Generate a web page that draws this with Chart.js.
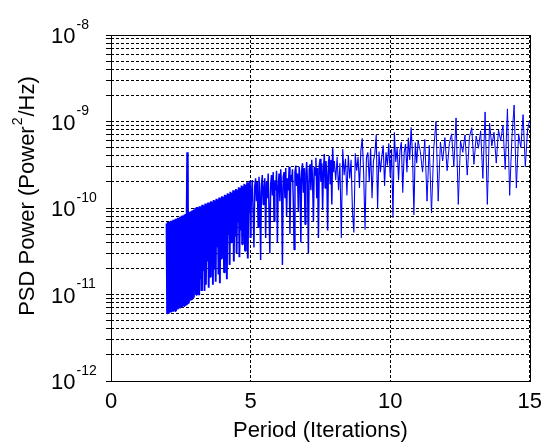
<!DOCTYPE html>
<html><head><meta charset="utf-8">
<script src="https://cdn.jsdelivr.net/npm/chart.js@4/dist/chart.umd.min.js"></script>
<style>html,body{margin:0;padding:0;background:#fff}#wrap{width:550px;height:444px}</style>
</head><body><div id="wrap"><canvas id="c" width="550" height="444"></canvas></div>
<script>
// Period (iterations) and PSD power values
const periodA = [2.00,2.02,2.04,2.06,2.08,2.10,2.12,2.14,2.16,2.18,2.20,2.22,2.24,2.26,2.28,2.30,2.32,2.34,2.36,2.38,2.40,2.42,2.44,2.46,2.48,2.50,2.52,2.54,2.56,2.58,2.60,2.62,2.64,2.66,2.68,2.70,2.72,2.74,2.76,2.78,2.80,2.82,2.84,2.86,2.88,2.90,2.92,2.94,2.96,2.98,3.00];
const powerA = [6.6e-11,6.1e-12,6.9e-11,6.0e-12,6.7e-11,6.4e-12,7.0e-11,6.2e-12,7.1e-11,6.6e-12,6.9e-11,6.3e-12,7.3e-11,6.8e-12,7.2e-11,6.5e-12,7.5e-11,7.1e-12,7.4e-11,6.7e-12,7.7e-11,7.3e-12,7.6e-11,6.9e-12,7.9e-11,7.6e-12,8.0e-11,7.1e-12,8.2e-11,7.8e-12,8.1e-11,7.4e-12,8.4e-11,8.2e-12,8.5e-11,7.7e-12,8.7e-11,4.4e-10,8.0e-12,8.9e-11,8.6e-12,9.0e-11,9.4e-12,9.1e-11,8.8e-12,9.3e-11,1.0e-11,9.4e-11,9.2e-12,9.6e-11,1.1e-11];
const periodB = [3.025,3.050,3.075,3.100,3.125,3.150,3.175,3.200,3.225,3.250,3.275,3.300,3.325,3.350,3.375,3.400,3.425,3.450,3.475,3.500,3.525,3.550,3.575,3.600,3.625,3.650,3.675,3.700,3.725,3.750,3.775,3.800,3.825,3.850,3.875,3.900,3.925,3.950,3.975,4.000,4.025,4.050,4.075,4.100,4.125,4.150,4.175,4.200,4.225,4.250,4.275,4.300,4.325,4.350,4.375,4.400,4.425,4.450,4.475,4.500,4.525,4.550,4.575,4.600,4.625,4.650,4.675,4.700,4.725,4.750,4.775,4.800,4.825,4.850,4.875,4.900,4.925,4.950,4.975,5.000];
const powerB = [1.00e-10,1.0e-11,1.03e-10,1.2e-11,1.01e-10,9.8e-12,1.05e-10,1.5e-11,1.04e-10,1.1e-11,1.09e-10,1.9e-11,1.07e-10,1.1e-11,1.13e-10,1.3e-11,1.10e-10,2.4e-11,1.16e-10,1.2e-11,1.14e-10,1.6e-11,1.20e-10,3.0e-11,1.18e-10,1.3e-11,1.24e-10,2.0e-11,1.22e-10,1.4e-11,1.28e-10,3.6e-11,1.26e-10,1.7e-11,1.32e-10,1.35e-11,1.30e-10,2.6e-11,1.37e-10,4.5e-11,1.35e-10,1.8e-11,1.42e-10,3.2e-11,1.40e-10,1.5e-11,1.48e-10,5.0e-11,1.45e-10,2.2e-11,1.54e-10,4.0e-11,1.50e-10,6.5e-11,1.60e-10,2.4e-11,1.57e-10,4.8e-11,1.66e-10,3.0e-11,1.63e-10,7.0e-11,1.74e-10,2.7e-11,1.70e-10,5.5e-11,1.82e-10,3.8e-11,1.78e-10,8.0e-11,1.90e-10,3.2e-11,1.86e-10,6.0e-11,1.98e-10,2.6e-11,1.94e-10,9.0e-11,2.06e-10,4.5e-11];
const periodC = [5.03,5.06,5.09,5.12,5.15,5.18,5.21,5.24,5.27,5.30,5.33,5.36,5.39,5.42,5.45,5.48,5.51,5.54,5.57,5.60,5.63,5.66,5.69,5.72,5.75,5.78,5.81,5.84,5.87,5.90,5.93,5.96,5.99,6.02,6.05,6.08,6.11,6.14,6.17,6.20,6.23,6.26,6.29,6.32,6.35,6.38,6.41,6.44,6.47,6.50,6.53,6.56,6.59,6.62,6.65,6.68,6.71,6.74,6.77,6.80,6.83,6.86,6.89,6.92,6.95,6.98,7.01,7.04,7.07,7.10,7.13,7.16,7.19,7.22,7.25,7.28,7.31,7.34,7.37,7.40,7.43,7.46,7.49,7.52,7.55,7.58,7.61,7.64,7.67,7.70,7.73,7.76,7.79,7.82,7.85,7.88,7.91,7.94,7.97,8.00];
const powerC = [1.4e-10,2.1e-10,9.0e-11,3.5e-11,1.8e-10,2.2e-10,1.2e-10,2.0e-10,6.0e-11,2.3e-10,
  1.5e-10,2.5e-11,1.9e-10,2.4e-10,1.1e-10,1.7e-10,2.2e-10,4.5e-11,2.0e-10,1.3e-10,
  2.5e-10,9.5e-11,3.0e-11,1.9e-10,2.4e-10,1.4e-10,2.6e-10,7.0e-11,2.1e-10,1.6e-10,
  2.7e-10,4.0e-11,1.8e-10,2.5e-10,1.2e-10,2.8e-10,1.7e-10,2.2e-11,2.3e-10,2.6e-10,
  1.3e-10,2.9e-10,8.0e-11,2.2e-10,1.6e-10,3.0e-10,5.0e-11,2.4e-10,2.0e-10,2.8e-10,
  1.2e-10,3.3e-11,2.6e-10,3.1e-10,1.8e-10,2.5e-10,9.0e-11,3.0e-10,2.2e-10,4.0e-11,
  2.7e-10,3.3e-10,1.5e-10,2.9e-10,6.5e-11,2.5e-10,3.4e-10,1.9e-10,3.0e-11,2.8e-10,
  3.2e-10,1.6e-10,3.6e-10,2.1e-10,7.0e-11,3.0e-10,2.4e-10,3.8e-10,1.3e-10,2.9e-10,
  4.5e-11,3.1e-10,3.7e-10,2.0e-10,3.3e-10,9.5e-11,2.7e-10,4.2e-10,1.7e-10,3.5e-10,
  2.4e-10,5.5e-11,3.4e-10,4.0e-10,1.9e-10,3.6e-10,1.1e-10,4.9e-10,2.6e-10,3.5e-10];
const periodD = [8.05,8.10,8.15,8.20,8.25,8.30,8.35,8.40,8.45,8.50,8.55,8.60,8.65,8.70,8.75,8.80,8.85,8.90,8.95,9.00,9.05,9.10,9.15,9.20,9.25,9.30,9.35,9.40,9.45,9.50,9.55,9.60,9.65,9.70,9.75,9.80,9.85,9.90,9.95,10.00,10.05,10.10,10.15,10.20,10.25,10.30,10.35,10.40,10.45,10.50,10.55,10.60,10.65,10.70,10.75,10.80,10.85,10.90,10.95,11.00];
const powerD = [2.1e-10,3.9e-10,1.6e-10,3.3e-10,4.5e-11,4.8e-10,2.4e-10,3.7e-10,1.4e-10,4.1e-10,
  2.2e-10,3.6e-10,9.0e-11,5.2e-11,4.3e-10,2.7e-10,3.9e-10,1.7e-10,4.6e-10,6.4e-10,
  2.5e-10,5.6e-11,3.8e-10,4.4e-10,2.0e-10,4.9e-10,1.3e-10,3.5e-10,4.2e-10,7.0e-10,
  1.0e-10,4.5e-10,2.6e-10,3.9e-10,5.3e-10,1.8e-10,4.4e-10,3.1e-10,5.6e-10,2.3e-10,
  4.8e-10,7.7e-11,7.5e-10,3.4e-10,5.0e-10,2.1e-10,4.6e-10,5.8e-10,1.5e-10,4.3e-10,
  5.5e-10,2.6e-10,6.5e-10,3.6e-10,8.6e-10,4.2e-10,8.3e-11,5.7e-10,3.3e-10,6.0e-10];
const periodE = [11.08,11.16,11.24,11.32,11.40,11.48,11.56,11.64,11.72,11.80,11.88,11.96,12.04,12.12,12.20,12.28,12.36,12.44,12.52,12.60,12.68,12.76,12.84,12.92,13.00,13.08,13.16,13.24,13.32,13.40,13.48,13.56,13.64,13.72,13.80,13.88,13.96,14.04,14.12,14.20,14.28,14.36,14.44,14.52,14.60,14.68,14.76,14.84,14.92,15.00];
const powerE = [4.5e-10,2.6e-10,6.2e-10,1.2e-10,5.3e-10,8.8e-11,4.8e-10,1.0e-9,1.2e-10,5.8e-10,
  3.5e-10,6.5e-10,2.7e-10,5.6e-10,7.2e-10,3.0e-10,1.1e-9,1.1e-10,6.0e-10,4.4e-10,
  7.0e-10,2.4e-10,6.6e-10,8.5e-10,3.2e-10,6.8e-10,4.9e-10,7.8e-10,2.2e-10,1.29e-9,
  1.1e-10,9.6e-10,5.2e-10,7.5e-10,3.3e-10,8.0e-10,6.0e-10,9.0e-10,2.8e-10,1.4e-9,
  1.4e-10,6.5e-10,1.55e-9,1.7e-10,7.2e-10,5.0e-10,1.2e-9,3.0e-10,8.0e-10,1.04e-9];

// Axis ticks
const xTicks = [0, 5, 10, 15];
const yDecades = [1e-12, 1e-11, 1e-10, 1e-9, 1e-8];
const yExponents = ['-12', '-11', '-10', '-9', '-8'];
const yMinorMult = [1, 2, 3, 4, 5, 6, 7, 8, 9];

const xTitle = 'Period (Iterations)';
const yTitleParts = ['PSD Power (Power', '2', '/Hz)'];

const periods = [].concat(periodA, periodB, periodC, periodD, periodE);
const powers = [].concat(powerA, powerB, powerC, powerD, powerE);
const points = periods.map((p, i) => ({ x: p, y: powers[i] }));

const FONT = '"Liberation Sans", Arial, sans-serif';

const yTickValues = [];
yDecades.forEach((d, i) => {
  if (i === yDecades.length - 1) { yTickValues.push(d); return; }
  yMinorMult.forEach(m => yTickValues.push(d * m));
});

// thicker stroke where the trace is so dense that it renders as a solid band
function segWidth(ctx) {
  const x = ctx.p0.parsed.x;
  if (x < 3.3) return 2.4;
  if (x < 5) return 1.9;
  if (x < 8) return 1.45;
  if (x < 11) return 1.1;
  return 1;
}

const decorPlugin = {
  id: 'decor',
  afterDraw(chart) {
    const ctx = chart.ctx;
    const a = chart.chartArea;
    const ys = chart.scales.y;
    ctx.save();
    ctx.strokeStyle = '#000';
    ctx.lineWidth = 1;
    ctx.setLineDash([]);
    ctx.strokeRect(Math.round(a.left) + 0.5, Math.round(a.top) + 0.5, Math.round(a.right - a.left), Math.round(a.bottom - a.top));
    ctx.fillStyle = '#000';
    yDecades.forEach((v, i) => {
      const py = ys.getPixelForValue(v);
      ctx.font = '22px ' + FONT;
      ctx.textBaseline = 'middle';
      ctx.textAlign = 'left';
      const x0 = 51;
      ctx.fillText('10', x0, py + 2);
      const w = ctx.measureText('10').width;
      ctx.font = '14px ' + FONT;
      ctx.fillText(yExponents[i], x0 + w + 1, py - 10);
    });
    ctx.translate(28, 196);
    ctx.rotate(-Math.PI / 2);
    ctx.textBaseline = 'middle';
    ctx.textAlign = 'left';
    ctx.font = '22px ' + FONT;
    const w1 = ctx.measureText(yTitleParts[0]).width;
    ctx.font = '14px ' + FONT;
    const w2 = ctx.measureText(yTitleParts[1]).width;
    ctx.font = '22px ' + FONT;
    const w3 = ctx.measureText(yTitleParts[2]).width;
    let sx = -(w1 + w2 + w3 + 2) / 2;
    ctx.fillText(yTitleParts[0], sx, 0);
    sx += w1 + 1;
    ctx.font = '14px ' + FONT;
    ctx.fillText(yTitleParts[1], sx, -10);
    sx += w2 + 1;
    ctx.font = '22px ' + FONT;
    ctx.fillText(yTitleParts[2], sx, 0);
    ctx.restore();
  }
};

new Chart(document.getElementById('c'), {
  type: 'line',
  data: {
    datasets: [{
      data: points,
      borderColor: '#0000ff',
      borderWidth: 1,
      borderJoinStyle: 'bevel',
      segment: { borderWidth: segWidth },
      pointRadius: 0,
      tension: 0,
      fill: false
    }]
  },
  options: {
    responsive: false,
    animation: false,
    events: [],
    layout: { padding: { left: 0, right: 13, top: 35, bottom: 0 } },
    plugins: { legend: { display: false }, tooltip: { enabled: false } },
    scales: {
      x: {
        type: 'linear',
        min: 0, max: 15,
        afterBuildTicks: s => { s.ticks = xTicks.map(v => ({ value: v })); },
        afterFit: s => { s.height = 63; },
        ticks: { color: '#000', font: { family: FONT, size: 22 }, padding: 8, maxRotation: 0 },
        grid: { color: '#000', lineWidth: 1, drawTicks: false },
        border: { display: false, dash: [3, 2] },
        title: { display: true, text: xTitle, color: '#000', font: { family: FONT, size: 22 }, padding: { top: 0, bottom: 0 } }
      },
      y: {
        type: 'logarithmic',
        min: 1e-12, max: 1e-8,
        afterBuildTicks: s => { s.ticks = yTickValues.map(v => ({ value: v })); },
        afterFit: s => { s.width = 111; },
        ticks: { display: false },
        grid: { color: '#000', lineWidth: 1, drawTicks: true, tickLength: 5, tickColor: '#000', tickBorderDash: [] },
        border: { display: false, dash: [3, 2] }
      }
    }
  },
  plugins: [decorPlugin]
});
</script>
</body></html>
